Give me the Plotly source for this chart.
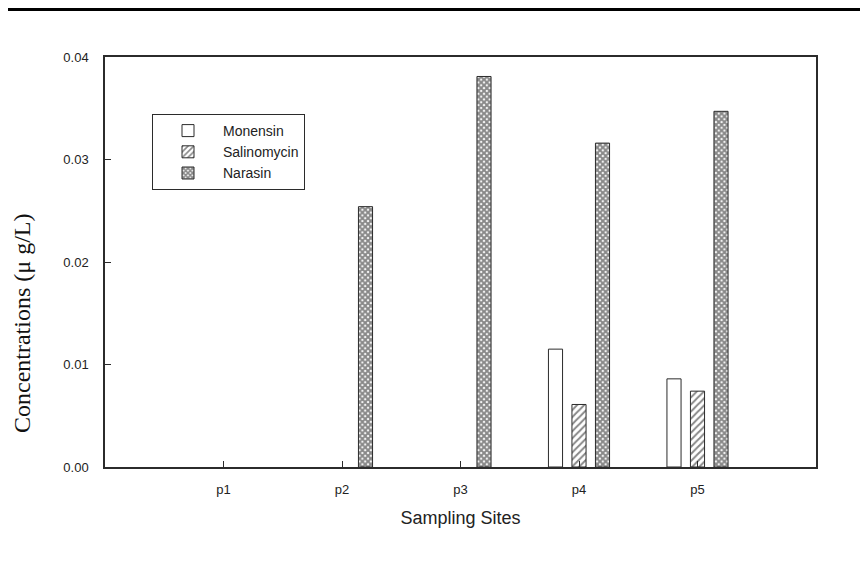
import plotly.graph_objects as go

sites = ["p1", "p2", "p3", "p4", "p5"]
# None = not detected (no bar drawn)
monensin = [None, None, None, 0.0115, 0.0086]
salinomycin = [None, None, None, 0.0061, 0.0074]
narasin = [None, 0.0254, 0.0381, 0.0316, 0.0347]
y_ticks = [0.0, 0.01, 0.02, 0.03, 0.04]
y_tick_labels = ["0.00", "0.01", "0.02", "0.03", "0.04"]

# page body has an 8px margin, so figure coords = screen coords - 8
W, H = 860, 573
ML, MR, MT, MB = 97, 52, 49, 114
PW, PH = W - ML - MR, H - MT - MB

line_col = "#2b2b2b"
txt_col = "#222222"
sans = "Liberation Sans, Arial, sans-serif"
serif = "Liberation Serif, Times New Roman, serif"

fig = go.Figure()
fig.add_trace(go.Bar(
    name="Monensin", x=sites, y=monensin,
    marker=dict(color="white", line=dict(color=line_col, width=1)),
))
fig.add_trace(go.Bar(
    name="Salinomycin", x=sites, y=salinomycin,
    marker=dict(color="white", line=dict(color=line_col, width=1),
                pattern=dict(shape="/", size=5, solidity=0.4,
                             fgcolor="#111111", bgcolor="white")),
))
fig.add_trace(go.Bar(
    name="Narasin", x=sites, y=narasin,
    marker=dict(color="white", line=dict(color=line_col, width=1),
                pattern=dict(shape="x", size=4, solidity=0.75,
                             fgcolor="#111111", bgcolor="white")),
))

fig.update_layout(
    width=W, height=H,
    margin=dict(l=ML, r=MR, t=MT, b=MB),
    paper_bgcolor="white", plot_bgcolor="white",
    barmode="group", bargap=0.405, bargroupgap=0.40,
    font=dict(family=sans, size=13, color=txt_col),
    showlegend=True,
    legend=dict(
        x=(152 - 8 - ML) / PW, y=1 - (114 - 8 - MT) / PH,
        xanchor="left", yanchor="top",
        bordercolor=line_col, borderwidth=1, bgcolor="white",
        font=dict(family=sans, size=14, color=txt_col),
        tracegroupgap=0, itemwidth=60,
        entrywidth=210, entrywidthmode="pixels",
    ),
    xaxis=dict(
        type="category", range=[-1, 5],
        showline=True, linecolor=line_col, linewidth=1.5, mirror=True,
        ticks="inside", ticklen=6, tickcolor=line_col, tickwidth=1,
        showgrid=False, zeroline=False,
        tickfont=dict(family=sans, size=13, color=txt_col),
        ticklabelstandoff=10,
        title=dict(text="Sampling Sites", font=dict(family=sans, size=18, color=txt_col), standoff=15),
    ),
    yaxis=dict(
        range=[0, 0.04],
        tickvals=y_ticks, ticktext=y_tick_labels,
        showline=True, linecolor=line_col, linewidth=1.5, mirror=True,
        ticks="inside", ticklen=6, tickcolor=line_col, tickwidth=1,
        showgrid=False, zeroline=False,
        tickfont=dict(family=sans, size=13, color=txt_col),
        ticklabelstandoff=12,
    ),
    annotations=[dict(
        text="Concentrations (μ g/L)", textangle=-90,
        xref="paper", yref="paper",
        x=(14 - ML) / PW, y=1 - (316 - MT) / PH,
        xanchor="center", yanchor="middle", showarrow=False,
        font=dict(family=serif, size=24, color="#111111"),
    )],
    shapes=[dict(
        type="line", xref="paper", yref="paper",
        x0=-ML / PW - 0.02, x1=1 + MR / PW + 0.02,
        y0=1 + (MT - 1.5) / PH, y1=1 + (MT - 1.5) / PH,
        line=dict(color="black", width=3),
    )],
)

fig.write_html("out.html")
